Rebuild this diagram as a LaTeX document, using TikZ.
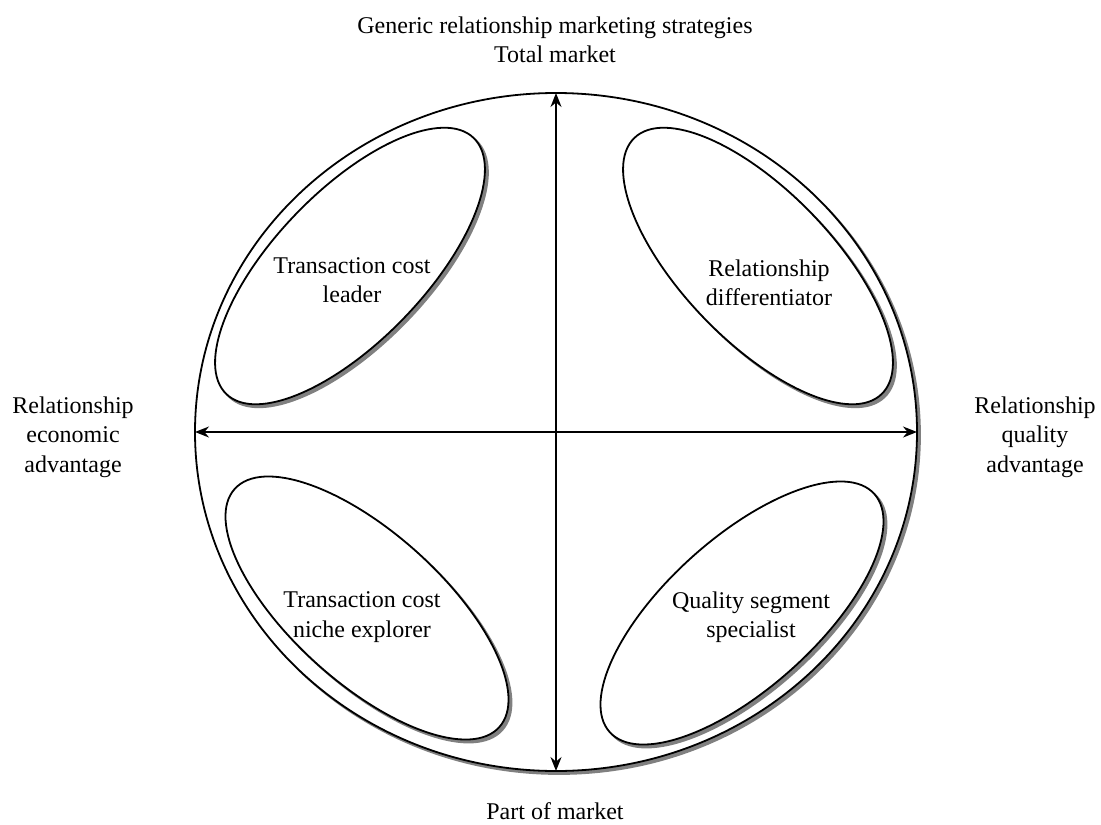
\documentclass[tikz,border=0pt]{standalone}
\usepackage{fontspec}
\setmainfont{Liberation Serif}
\usetikzlibrary{shapes.geometric,arrows.meta}
\definecolor{shadegray}{RGB}{128,128,128}
\begin{document}
\begin{tikzpicture}[x=1pt,y=-1pt,
  lbl/.style={align=center,font=\fontsize{24}{29.5}\selectfont,inner sep=0pt},
  bigell/.style={ellipse,inner sep=0pt,outer sep=0pt,minimum width=722pt,minimum height=678pt},
  segell/.style={ellipse,inner sep=0pt,outer sep=0pt,minimum width=356pt,minimum height=150pt},
  mainline/.style={draw=black,fill=white,line width=1.8pt},
  shadowfill/.style={draw=shadegray,fill=shadegray,line width=1.8pt,xshift=3pt,yshift=-3pt},
  axis/.style={line width=1.6pt,{Stealth[length=14pt,width=11pt]}-{Stealth[length=14pt,width=11pt]}}
]
\useasboundingbox (0,0) rectangle (1101,825);
% big ellipse
\node[bigell,shadowfill] (Eshadow) at (556,432) {};
\node[bigell,mainline] (E) at (556,432) {};
% segment ellipses
\node[segell,shadowfill,rotate=46] (TLs) at (350,266) {};
\node[segell,mainline,rotate=46] (TL) at (350,266) {};
\node[segell,shadowfill,rotate=-46] (TRs) at (758,266) {};
\node[segell,mainline,rotate=-46] (TR) at (758,266) {};
\node[segell,shadowfill,rotate=-42] (BLs) at (367,608) {};
\node[segell,mainline,rotate=-42] (BL) at (367,608) {};
\node[segell,shadowfill,rotate=42] (BRs) at (742,613) {};
\node[segell,mainline,rotate=42] (BR) at (742,613) {};
% axes
\draw[axis] (E.north) -- (E.south);
\draw[axis] (E.west) -- (E.east);
% labels
\node[lbl] (tl) at (352,280) {Transaction cost\\leader};
\node[lbl] (tr) at (769,283) {Relationship\\differentiator};
\node[lbl] (bl) at (362,617) {Transaction cost\\niche explorer};
\node[lbl] (br) at (751,617) {Quality segment\\specialist};
\node[lbl] (top) at (555,40) {Generic relationship marketing strategies\\Total market};
\node[lbl] (left) at (73,437) {Relationship\\economic\\advantage};
\node[lbl] (right) at (1035,437) {Relationship\\quality\\advantage};
\node[lbl] (bottom) at (555,811) {Part of market};
\end{tikzpicture}
\end{document}
